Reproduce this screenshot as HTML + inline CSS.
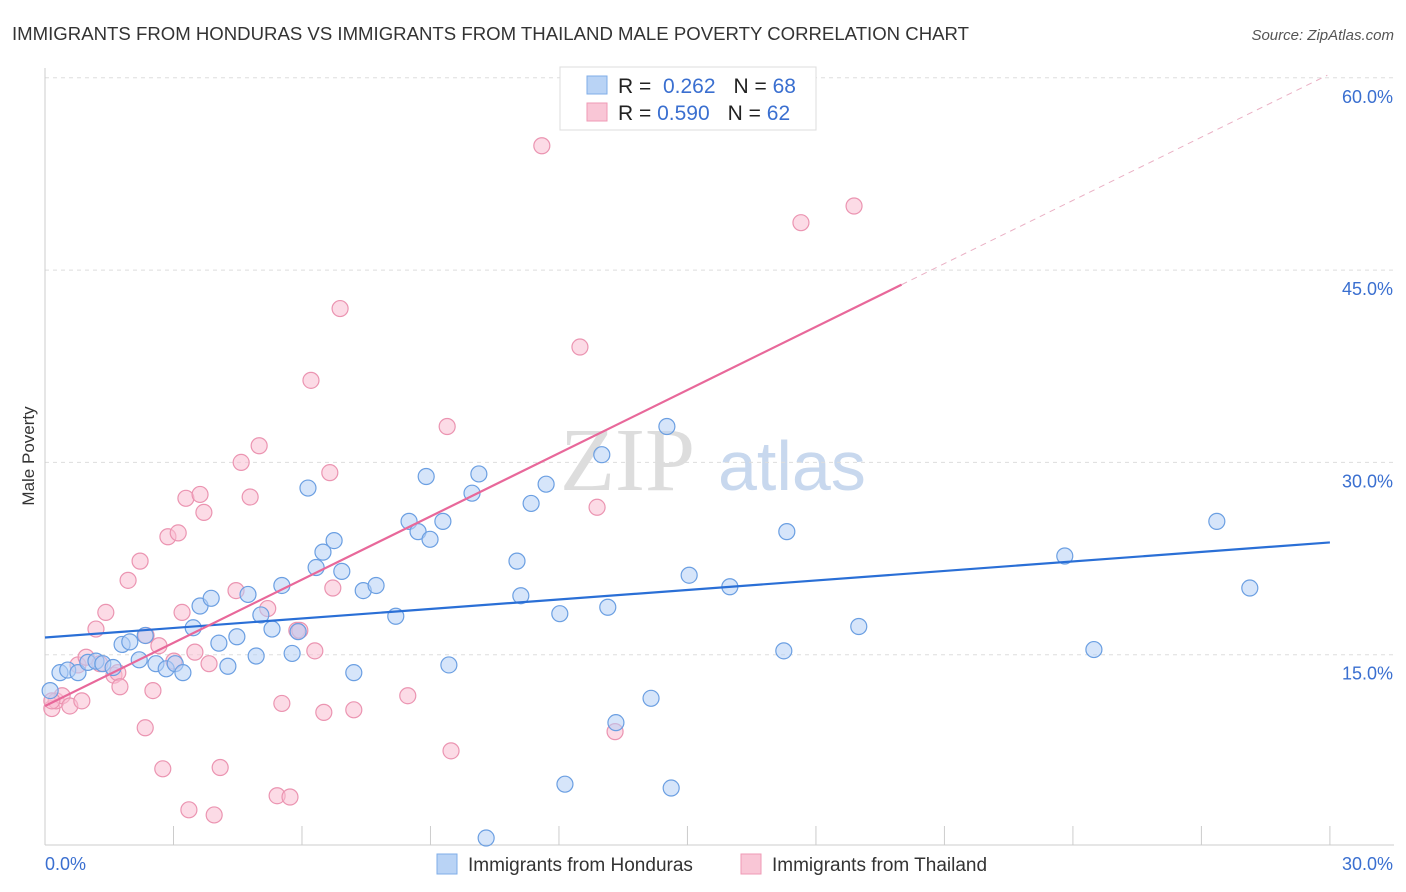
<!DOCTYPE html>
<html><head><meta charset="utf-8"><style>
body{margin:0;background:#fff;font-family:"Liberation Sans",sans-serif}
svg{display:block}
</style></head><body>
<svg id="c" width="1406" height="892" xmlns="http://www.w3.org/2000/svg">
<text x="12" y="40" font-size="18.6" fill="#333">IMMIGRANTS FROM HONDURAS VS IMMIGRANTS FROM THAILAND MALE POVERTY CORRELATION CHART</text>
<text x="1394" y="40" font-size="15" fill="#555" font-style="italic" text-anchor="end">Source: ZipAtlas.com</text>
<text x="34" y="456" font-size="17" fill="#333" text-anchor="middle" transform="rotate(-90 34 456)">Male Poverty</text>
<text x="560" y="490" font-size="90" fill="#ddd" font-family="Liberation Serif">ZIP</text>
<text x="718" y="490" font-size="70" fill="#c8d8ee">atlas</text>
<g id="grid"></g><g id="pts"></g><g id="lines"></g>
<g>
<rect x="560" y="67" width="256" height="63" fill="#fff" stroke="#ddd"/>
<rect x="587" y="76" width="20" height="18" fill="#b9d3f5" stroke="#7faee8"/>
<rect x="587" y="103" width="20" height="18" fill="#f9c6d6" stroke="#ef9ab5"/>
<text x="618" y="93" font-size="21" fill="#222">R = <tspan fill="#3a6fd0">&#160;0.262</tspan><tspan dx="18">N = </tspan><tspan fill="#3a6fd0">68</tspan></text>
<text x="618" y="120" font-size="21" fill="#222">R = <tspan fill="#3a6fd0">0.590</tspan><tspan dx="18">N = </tspan><tspan fill="#3a6fd0">62</tspan></text>
</g>
<g>
<rect x="437" y="854" width="20" height="20" fill="#b9d3f5" stroke="#7faee8"/>
<text x="468" y="871" font-size="19" fill="#333">Immigrants from Honduras</text>
<rect x="741" y="854" width="20" height="20" fill="#f9c6d6" stroke="#ef9ab5"/>
<text x="772" y="871" font-size="19" fill="#333">Immigrants from Thailand</text>
</g>
</svg>
<script>
const xTicks=[0,30];
const yTicks=[15,30,45,60];
const hondX=[0.35,0.53,0.77,1.0,1.19,1.35,1.59,1.8,1.98,2.2,2.34,2.59,2.83,3.04,3.22,3.46,3.62,3.88,4.06,4.27,4.48,4.74,4.93,5.04,5.3,5.53,5.77,5.91,6.14,6.33,6.49,6.75,6.93,7.21,7.43,7.73,8.19,8.5,8.71,8.9,8.99,9.29,9.43,9.97,10.13,11.02,11.11,11.35,11.7,12.02,12.14,13.0,13.14,13.33,14.15,14.52,14.62,15.04,15.99,17.25,17.32,19.0,23.81,24.49,27.36,28.13,10.3,0.12];
const hondY=[13.6,13.8,13.6,14.4,14.5,14.3,14.0,15.8,16.0,14.6,16.5,14.3,13.9,14.3,13.6,17.1,18.8,19.4,15.9,14.1,16.4,19.7,14.9,18.1,17.0,20.4,15.1,16.8,28.0,21.8,23.0,23.9,21.5,13.6,20.0,20.4,18.0,25.4,24.6,28.9,24.0,25.4,14.2,27.6,29.1,22.3,19.6,26.8,28.3,18.2,4.9,30.6,18.7,9.7,11.6,32.8,4.6,21.2,20.3,15.3,24.6,17.2,22.7,15.4,25.4,20.2,0.7,12.2];
const thaiX=[0.16,0.26,0.4,0.58,0.77,0.86,0.96,1.19,1.28,1.42,1.61,1.7,1.75,1.94,2.22,2.34,2.36,2.52,2.66,2.75,2.87,3.01,3.11,3.2,3.29,3.36,3.5,3.62,3.71,3.83,3.95,4.09,4.46,4.58,4.79,5.0,5.2,5.42,5.53,5.72,5.88,5.95,6.21,6.3,6.51,6.65,6.72,6.89,7.21,8.47,9.39,9.48,11.6,12.49,12.89,13.31,17.65,18.89,0.16];
const thaiY=[10.8,11.4,11.8,11.0,14.2,11.4,14.8,17.0,14.3,18.3,13.4,13.6,12.5,20.8,22.3,9.3,16.5,12.2,15.7,6.1,24.2,14.5,24.5,18.3,27.2,2.9,15.2,27.5,26.1,14.3,2.5,6.2,20.0,30.0,27.3,31.3,18.6,4.0,11.2,3.9,16.9,16.9,36.4,15.3,10.5,29.2,20.2,42.0,10.7,11.8,32.8,7.5,54.7,39.0,26.5,9.0,48.7,50.0,11.4];
const X=v=>45+v*42.83, Y=v=>847-v*12.82;
const NS='http://www.w3.org/2000/svg';
function mk(t,a,p){const e=document.createElementNS(NS,t);for(const k in a)e.setAttribute(k,a[k]);p.appendChild(e);return e;}
const grid=document.getElementById('grid');
for(const t of yTicks){
 const gl=mk('line',{x1:45,x2:1394,y1:Y(t),y2:Y(t),stroke:'#ddd','stroke-dasharray':'4,4'},grid);
 
 
 const tl=mk('text',{x:1393,y:Y(t)+25,'font-size':18,fill:'#3a6fd0','text-anchor':'end'},grid);tl.textContent=t.toFixed(1)+'%';
 
 
}
mk('line',{x1:45,x2:45,y1:68,y2:845,stroke:'#ccc'},grid);
mk('line',{x1:45,x2:1394,y1:845,y2:845,stroke:'#ccc'},grid);
for(let i=0;i<=10;i++){mk('line',{x1:X(i*3),x2:X(i*3),y1:826,y2:845,stroke:'#ccc'},grid);}
xTicks.forEach((t,i)=>{const tl=mk('text',{x:i?1393:45,y:870,'font-size':18,fill:'#3a6fd0','text-anchor':i?'end':'start'},grid);tl.textContent=t.toFixed(1)+'%';
 
 });
const pts=document.getElementById('pts');
function draw(xs,ys,fill,stroke,name){xs.forEach((x,i)=>{const c=mk('circle',{cx:X(x),cy:Y(ys[i]),r:8,fill:fill,stroke:stroke,'stroke-width':1.2},pts);
 
 });}
draw(thaiX,thaiY,'rgba(249,190,210,0.55)','#eb94b1','thailand-point');
draw(hondX,hondY,'rgba(180,208,245,0.55)','#6b9fe2','honduras-point');
function fit(xs,ys){const n=xs.length;let mx=0,my=0;for(let i=0;i<n;i++){mx+=xs[i];my+=ys[i];}mx/=n;my/=n;let sxy=0,sxx=0;for(let i=0;i<n;i++){sxy+=(xs[i]-mx)*(ys[i]-my);sxx+=(xs[i]-mx)**2;}const b=sxy/sxx;return [my-b*mx,b];}
const L=document.getElementById('lines');
const [ha,hb]=fit(hondX,hondY);
const hl=mk('line',{x1:X(0),y1:Y(ha),x2:X(30),y2:Y(ha+hb*30),stroke:'#2a6fd6','stroke-width':2.2},L);


const [ta,tb]=fit(thaiX,thaiY);
const tl1=mk('line',{x1:X(0),y1:Y(ta),x2:X(20),y2:Y(ta+tb*20),stroke:'#e8689a','stroke-width':2.2},L);


const xe=Math.min(30,(60.2-ta)/tb);
const tl2=mk('line',{x1:X(20),y1:Y(ta+tb*20),x2:X(xe),y2:Y(ta+tb*xe),stroke:'#eab0c4','stroke-width':1,'stroke-dasharray':'6,5'},L);


</script>
</body></html>
